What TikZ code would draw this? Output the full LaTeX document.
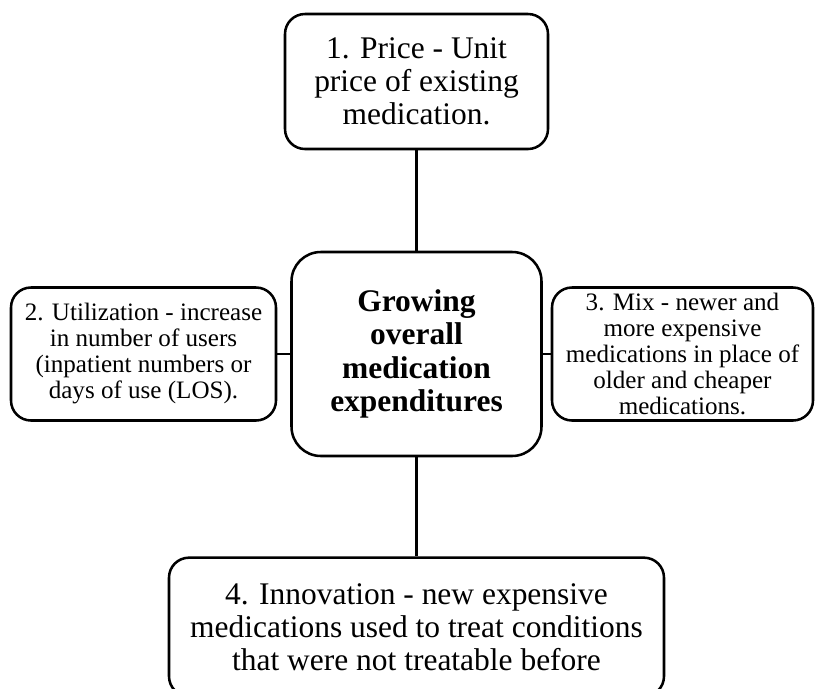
\documentclass[tikz,border=0pt]{standalone}
\usepackage{fontspec}
\setmainfont{Liberation Serif}
\tikzset{
  box/.style={draw=black, line width=1.9pt, rounded corners=15pt, align=center, inner sep=0pt, fill=white},
  bigtext/.style={font=\fontsize{23.6}{24.75}\selectfont},
  smalltext/.style={font=\fontsize{18.8}{19.5}\selectfont},
  link/.style={draw=black, line width=1.7pt}
}
\begin{document}
\begin{tikzpicture}[x=0.75pt,y=-0.75pt]
\useasboundingbox (0,0) rectangle (815,689);
\node[box, bigtext, minimum width=197.25pt, minimum height=101.25pt] (price) at (416.5,81.5) {1. Price - Unit\\price of existing\\medication.};
\node[box, bigtext, rounded corners=22pt, minimum width=187.5pt, minimum height=153pt, font=\fontsize{23.6}{25.1}\selectfont\bfseries] (center) at (416.5,354) {Growing\\overall\\medication\\expenditures};
\node[box, smalltext, minimum width=198.75pt, minimum height=99.75pt] (util) at (143.5,354) {2. Utilization - increase\\in number of users\\(inpatient numbers or\\days of use (LOS).};
\node[box, smalltext, minimum width=195.75pt, minimum height=99.75pt] (mix) at (682.5,354) {3. Mix - newer and\\more expensive\\medications in place of\\older and cheaper\\medications.};
\node[box, bigtext, minimum width=371.25pt, minimum height=104pt] (innov) at (416.5,627) {4. Innovation - new expensive\\medications used to treat conditions\\that were not treatable before};
\draw[link] (price.south) -- (center.north);
\draw[link] (util.east) -- (center.west);
\draw[link] (center.east) -- (mix.west);
\draw[link] (center.south) -- (innov.north);
\end{tikzpicture}
\end{document}
